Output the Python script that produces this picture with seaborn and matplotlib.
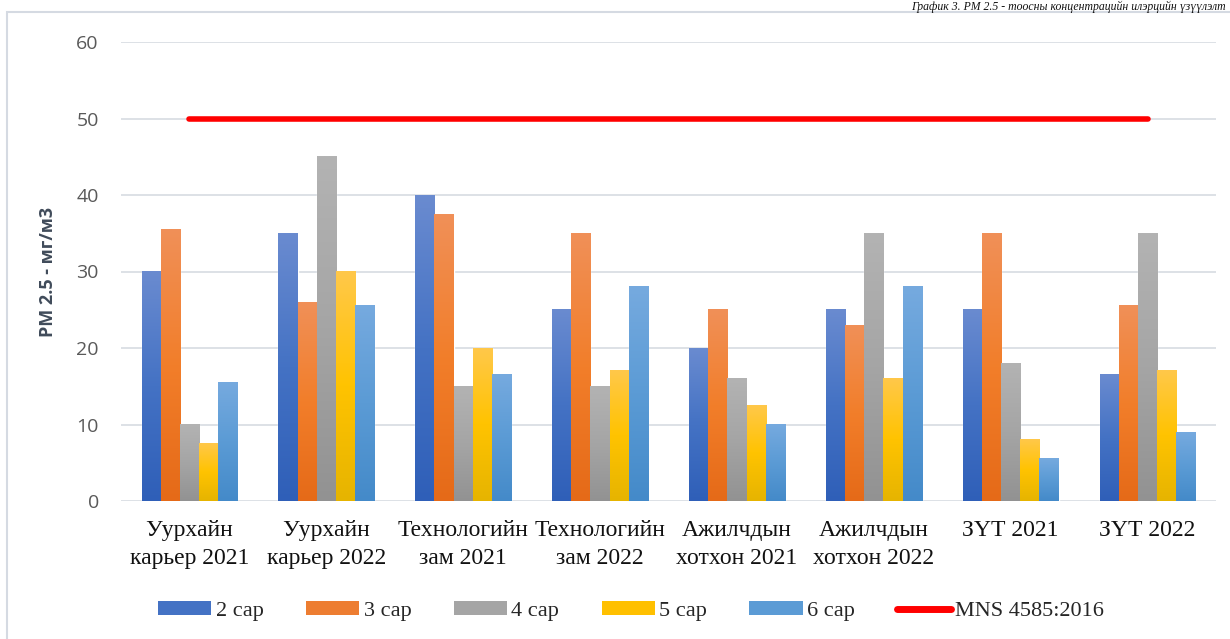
import numpy as np
import pandas as pd
import matplotlib
matplotlib.use("Agg")
import matplotlib.pyplot as plt
import seaborn as sns
from matplotlib.colors import LinearSegmentedColormap
from matplotlib.patches import Patch, Rectangle
from matplotlib.lines import Line2D

# ---- data ----
sites = ["Уурхайн\nкарьер 2021", "Уурхайн\nкарьер 2022", "Технологийн\nзам 2021",
         "Технологийн\nзам 2022", "Ажилчдын\nхотхон 2021", "Ажилчдын\nхотхон 2022",
         "ЗҮТ 2021", "ЗҮТ 2022"]
months = ["2 сар", "3 сар", "4 сар", "5 сар", "6 сар"]
m2 = [30, 35, 40, 25, 20, 25, 25, 16.5]
m3 = [35.5, 26, 37.4, 35, 25, 23, 35, 25.6]
m4 = [10, 45, 15, 15, 16, 35, 18, 35]
m5 = [7.5, 30, 20, 17, 12.5, 16, 8, 17]
m6 = [15.5, 25.5, 16.5, 28, 10, 28, 5.5, 9]
mns_label = "MNS 4585:2016"
mns_limit = [50, 50, 50, 50, 50, 50, 50, 50]
y_ticks = [0, 10, 20, 30, 40, 50, 60]

colors = ["#4472C4", "#ED7D31", "#A5A5A5", "#FFC000", "#5B9BD5"]
# top / middle / bottom shades for the Excel-like gradient
grads = [
    ["#6A8BD0", "#4472C4", "#2F5FB8"],
    ["#F09058", "#F27E2A", "#E56A18"],
    ["#B3B3B3", "#A5A5A5", "#929292"],
    ["#FFC84A", "#FFC300", "#E6B400"],
    ["#76AADF", "#5B9BD5", "#448AC9"],
]

df = pd.DataFrame({"site": sites * 5,
                   "month": np.repeat(months, len(sites)),
                   "value": m2 + m3 + m4 + m5 + m6})

sns.set_theme(style="white")
plt.rcParams["font.family"] = ["Liberation Serif", "DejaVu Serif"]

fig = plt.figure(figsize=(12.3, 6.39), dpi=100)
ax = fig.add_axes([121 / 1230, 1 - 501 / 639, 1095 / 1230, 459 / 639])

sns.barplot(data=df, x="site", y="value", hue="month", palette=colors,
            width=0.7, gap=0, saturation=1, legend=False, ax=ax, zorder=2)

# gradient fill on every bar
grad = np.linspace(0, 1, 256).reshape(-1, 1)
for i, cont in enumerate(ax.containers):
    cmap = LinearSegmentedColormap.from_list("g%d" % i, grads[i][::-1])
    for bar in cont:
        x0, w, h = bar.get_x(), bar.get_width(), bar.get_height()
        ax.imshow(grad, cmap=cmap, origin="lower", aspect="auto",
                  extent=[x0, x0 + w, 0, h], zorder=2.5)

sns.lineplot(x=np.arange(len(sites)), y=mns_limit, color="#FF0000", lw=4,
             solid_capstyle="round", ax=ax, zorder=3)

ax.set_xlim(-0.5, len(sites) - 0.5)
ax.set_ylim(0, 60)
ax.set_yticks(y_ticks)
ax.grid(axis="y", color="#DDE1E6", lw=1.4, zorder=0)
ax.set_axisbelow(True)
for s in ax.spines.values():
    s.set_visible(False)
ax.tick_params(axis="both", length=0)
ax.tick_params(axis="y", pad=16)
ax.tick_params(axis="x", pad=14)
for t in ax.get_yticklabels():
    t.set_fontfamily("Open Sans")
    t.set_fontsize(14)
    t.set_color("#595959")
for t in ax.get_xticklabels():
    t.set_fontsize(17)
    t.set_color("#111111")
    t.set_linespacing(1.38)
ax.set_xlabel("")
ax.set_ylabel("PM 2.5 - мг/м3", fontfamily="Open Sans", fontsize=13,
              fontweight="bold", color="#404B5A")
ax.yaxis.set_label_coords(-0.058, 0.5)

handles = [Patch(facecolor=c, edgecolor="none") for c in colors]
handles.append(Line2D([0], [0], color="#FF0000", lw=5, solid_capstyle="round"))
fig.legend(handles, months + [mns_label], loc="center", ncol=6,
           bbox_to_anchor=(0.513, 1 - 611 / 639), frameon=False,
           prop={"family": "Liberation Serif", "size": 16},
           handlelength=2.4, handleheight=0.6, handletextpad=0.2,
           columnspacing=1.9)

# outer chart frame (left and top edges visible)
fig.patches.append(Rectangle((7 / 1230, -0.1), 1.2, 1 - 12 / 639 + 0.1,
                             transform=fig.transFigure, fill=False,
                             edgecolor="#D5DAE2", lw=1.5))
fig.text(1226 / 1230, 1 - 1 / 639, "График 3. PM 2.5 - тоосны концентрацийн илэрцийн үзүүлэлт",
         ha="right", va="top", fontsize=8.5, fontstyle="italic",
         family="Liberation Serif", color="#111111")

fig.savefig("out.png", dpi=100)
